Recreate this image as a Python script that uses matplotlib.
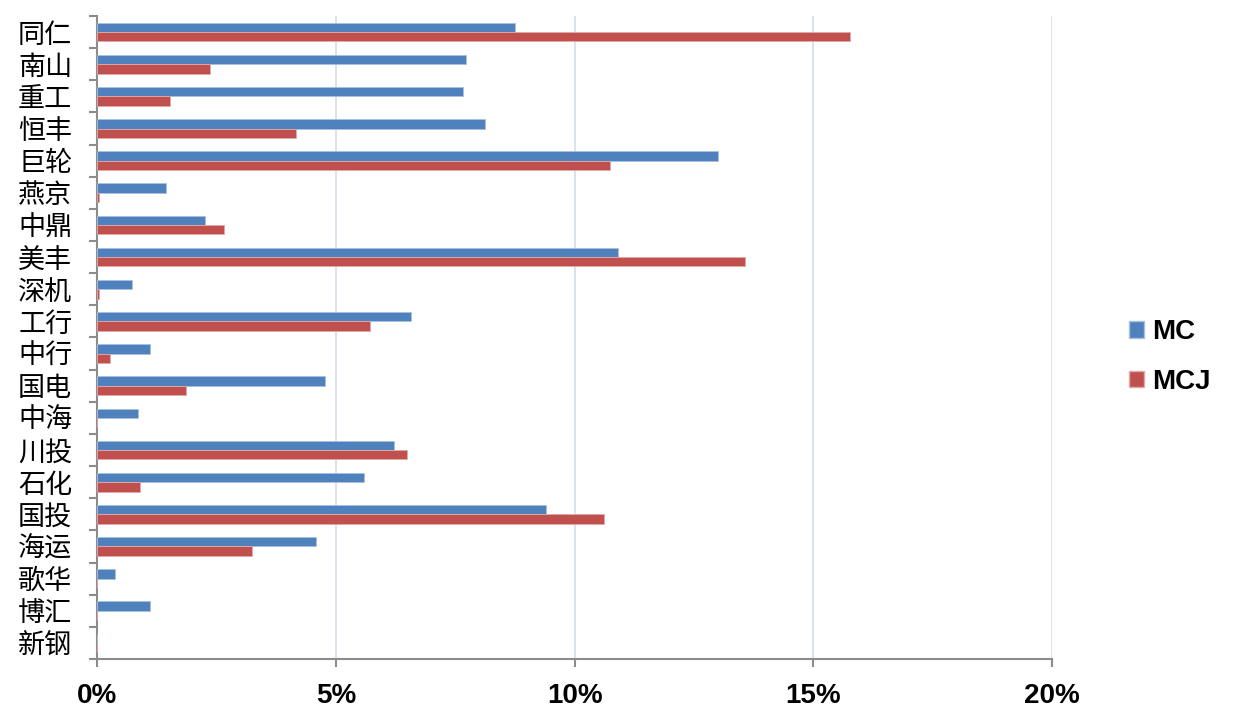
import matplotlib
matplotlib.use("Agg")
import matplotlib.pyplot as plt
import numpy as np
from matplotlib.patches import Patch

# values in percent, top to bottom
companies = ["同仁", "南山", "重工", "恒丰", "巨轮", "燕京", "中鼎", "美丰", "深机", "工行",
             "中行", "国电", "中海", "川投", "石化", "国投", "海运", "歌华", "博汇", "新钢"]
mc = [8.75, 7.72, 7.66, 8.13, 13.01, 1.44, 2.26, 10.91, 0.73, 6.58,
      1.11, 4.77, 0.85, 6.21, 5.58, 9.39, 4.58, 0.36, 1.11, 0.0]
mcj = [15.77, 2.36, 1.52, 4.17, 10.75, 0.04, 2.66, 13.56, 0.03, 5.72,
       0.27, 1.86, 0.0, 6.49, 0.90, 10.61, 3.24, 0.0, 0.0, 0.0]
xticks = [0, 5, 10, 15, 20]
xtick_labels = ["0%", "5%", "10%", "15%", "20%"]

blue = "#4F81BD"
red = "#C0504D"
axis_grey = "#8C8C8C"

fig = plt.figure(figsize=(12.48, 7.23), dpi=100)
ax = fig.add_axes([0.078, 0.0885, 0.7649, 0.8894])

y = np.arange(len(companies))
h = 0.29
ax.barh(y - h / 2, mc, height=h, color=blue, edgecolor="#A9C0DE", linewidth=0.6, label="MC", zorder=3)
ax.barh(y + h / 2, mcj, height=h, color=red, edgecolor="#E2A9A8", linewidth=0.6, label="MCJ", zorder=3)

ax.set_xlim(0, 20)
ax.set_ylim(len(companies) - 0.5, -0.5)

ax.set_xticks(xticks)
ax.set_xticklabels(xtick_labels, fontsize=20, fontweight="bold", family="Liberation Sans")
ax.tick_params(axis="x", length=6, width=1.5, color=axis_grey, pad=11)

ax.set_yticks(y)
ax.set_yticklabels(companies, fontsize=19.5, family=["Noto Sans CJK SC", "DejaVu Sans"])
ax.set_yticks(np.arange(-0.5, len(companies)), minor=True)
ax.tick_params(axis="y", which="major", length=0, pad=18)
ax.tick_params(axis="y", which="minor", length=6, width=1.5, color=axis_grey)

ax.grid(axis="x", color="#D6E0EE", linewidth=1.3, zorder=0)
ax.set_axisbelow(True)

for s in ["top", "right"]:
    ax.spines[s].set_visible(False)
for s in ["left", "bottom"]:
    ax.spines[s].set_color(axis_grey)
    ax.spines[s].set_linewidth(1.5)

handles = [Patch(facecolor=blue, edgecolor="#A9C0DE", label="MC"),
           Patch(facecolor=red, edgecolor="#E2A9A8", label="MCJ")]
fig.legend(handles=handles, loc="center left", bbox_to_anchor=(1104 / 1248, 1 - 357 / 723),
           frameon=False, handlelength=0.55, handleheight=0.55, handletextpad=0.3,
           labelspacing=0.85, prop={"family": "Liberation Sans", "weight": "bold", "size": 20})

fig.savefig("out.png", dpi=100)
